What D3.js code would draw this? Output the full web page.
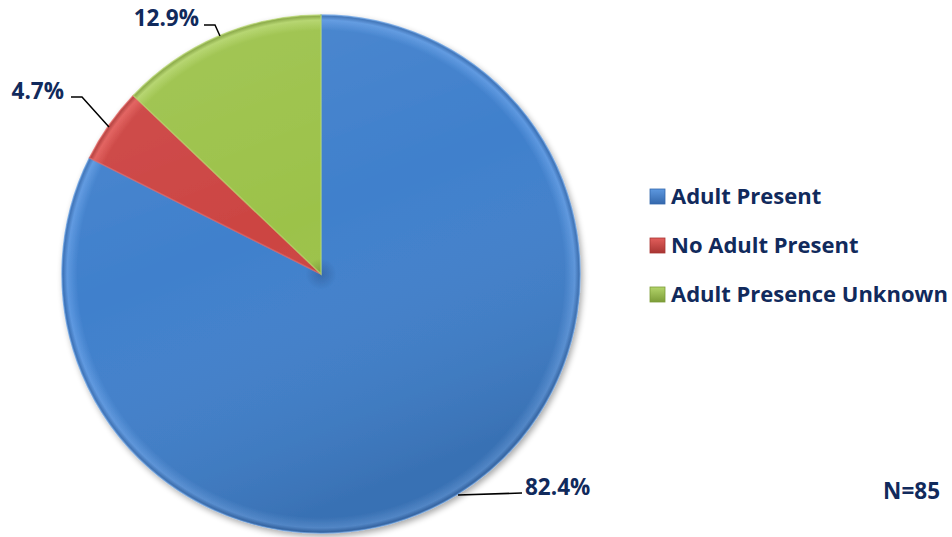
<!DOCTYPE html>
<html>
<head>
<meta charset="utf-8">
<script src="https://cdn.jsdelivr.net/npm/d3@7"></script>
<style>
body { margin: 0; background: #fff; }
text { font-family: "Open Sans", sans-serif; font-weight: bold; fill: #112a5c; }
</style>
</head>
<body>
<script>
var categories = ["Adult Present", "No Adult Present", "Adult Presence Unknown"];
var values = [82.4, 4.7, 12.9];
var labels = ["82.4%", "4.7%", "12.9%"];
var colors = ["#4080cc", "#cc4442", "#9cc24a"];
var lights = ["#5d98e0", "#e25e5b", "#b3d46a"];
var darks = ["#3468ac", "#a83533", "#7c9c38"];
var note = "N=85";

var width = 952, height = 537;
var cx = 321, cy = 274, r = 259;

var svg = d3.select("body").append("svg")
  .attr("width", width).attr("height", height);

var defs = svg.append("defs");
var shadow = defs.append("filter").attr("id", "shadow")
  .attr("x", "-10%").attr("y", "-10%").attr("width", "120%").attr("height", "120%");
shadow.append("feGaussianBlur").attr("in", "SourceAlpha").attr("stdDeviation", 3);
shadow.append("feOffset").attr("dx", 2).attr("dy", 3).attr("result", "ob");
shadow.append("feComponentTransfer").append("feFuncA").attr("type", "linear").attr("slope", 0.35);
var m = shadow.append("feMerge");
m.append("feMergeNode");
m.append("feMergeNode").attr("in", "SourceGraphic");

colors.forEach(function (c, i) {
  var g = defs.append("radialGradient").attr("id", "g" + i)
    .attr("gradientUnits", "userSpaceOnUse")
    .attr("cx", 0).attr("cy", 0).attr("r", r);
  g.append("stop").attr("offset", "0%").attr("stop-color", darks[i]);
  g.append("stop").attr("offset", "6%").attr("stop-color", c);
  g.append("stop").attr("offset", "94%").attr("stop-color", c);
  g.append("stop").attr("offset", "98%").attr("stop-color", lights[i]);
  g.append("stop").attr("offset", "100%").attr("stop-color", darks[i]);
  var s = defs.append("linearGradient").attr("id", "s" + i)
    .attr("x1", 0).attr("y1", 0).attr("x2", 0).attr("y2", 1);
  s.append("stop").attr("offset", "0%").attr("stop-color", lights[i]);
  s.append("stop").attr("offset", "100%").attr("stop-color", darks[i]);
});
var light = defs.append("linearGradient").attr("id", "light")
  .attr("x1", 0).attr("y1", 0).attr("x2", 0.4).attr("y2", 1);
light.append("stop").attr("offset", "0%").attr("stop-color", "#fff").attr("stop-opacity", 0.08);
light.append("stop").attr("offset", "50%").attr("stop-color", "#fff").attr("stop-opacity", 0);
light.append("stop").attr("offset", "100%").attr("stop-color", "#000").attr("stop-opacity", 0.12);

var data = categories.map(function (c, i) { return {name: c, value: values[i], label: labels[i], i: i}; });

var pie = d3.pie().sort(null).value(function (d) { return d.value; });
var arc = d3.arc().innerRadius(0).outerRadius(r);
var arcs = pie(data);

var g = svg.append("g").attr("transform", "translate(" + cx + "," + cy + ")");
var pg = g.append("g").attr("filter", "url(#shadow)");
pg.selectAll("path").data(arcs).enter().append("path")
  .attr("d", arc)
  .attr("fill", function (d) { return "url(#g" + d.data.i + ")"; })
  .attr("stroke", function (d) { return lights[d.data.i]; })
  .attr("stroke-opacity", 0.7)
  .attr("stroke-width", 1.5);
pg.append("circle").attr("r", r).attr("fill", "url(#light)");

// leader lines and labels
var leaders = [
  {i: 0, pts: [[458, 495], [522, 493]], tx: 525, ty: 495, anchor: "start"},
  {i: 1, pts: [[109, 127], [82, 97], [71, 97]], tx: 64, ty: 99, anchor: "end"},
  {i: 2, pts: [[220, 36], [215, 25], [204, 25]], tx: 199, ty: 26, anchor: "end"}
];
leaders.forEach(function (l) {
  svg.append("path").attr("d", d3.line()(l.pts))
    .attr("fill", "none").attr("stroke", "#000").attr("stroke-width", 1.5);
  svg.append("text").attr("x", l.tx).attr("y", l.ty)
    .attr("text-anchor", l.anchor).attr("font-size", 22.5)
    .text(labels[l.i]);
});

// legend
var ly = d3.scalePoint().domain(categories).range([196, 294]);
var leg = svg.append("g").selectAll("g").data(data).enter().append("g")
  .attr("transform", function (d) { return "translate(650," + ly(d.name) + ")"; });
leg.append("rect").attr("x", 0).attr("y", -7).attr("width", 15).attr("height", 15)
  .attr("fill", function (d) { return "url(#s" + d.i + ")"; })
  .attr("stroke", function (d) { return darks[d.i]; }).attr("stroke-width", 0.8);
leg.append("text").attr("x", 21).attr("y", 8).attr("font-size", 22)
  .text(function (d) { return d.name; });

svg.append("text").attr("x", 940).attr("y", 499).attr("text-anchor", "end")
  .attr("font-size", 22.5).text(note);
</script>
</body>
</html>
